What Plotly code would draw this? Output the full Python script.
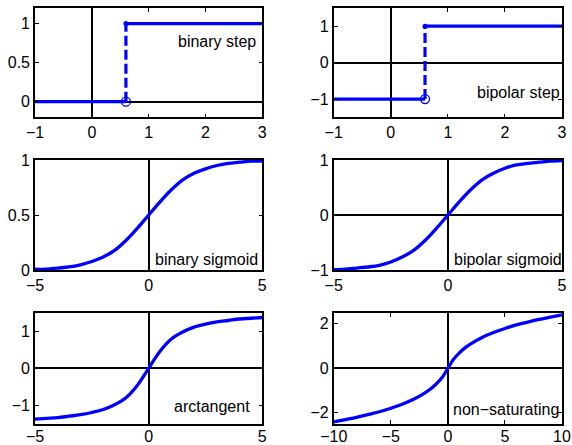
import plotly.graph_objects as go
from plotly.subplots import make_subplots

# ---- data ----
threshold = 0.6
step_x_low = [-1, threshold]
step_x_high = [threshold, 3]
binary_low = [0, 0]
binary_high = [1, 1]
bipolar_low = [-1, -1]
bipolar_high = [1, 1]

sig_x = [-5, -4.5, -4, -3.5, -3, -2.5, -2, -1.5, -1, -0.5, 0,
         0.5, 1, 1.5, 2, 2.5, 3, 3.5, 4, 4.5, 5]
binary_sig = [0.01, 0.01, 0.02, 0.03, 0.05, 0.08, 0.12, 0.18, 0.27, 0.38, 0.50,
              0.62, 0.73, 0.82, 0.88, 0.92, 0.95, 0.97, 0.98, 0.99, 0.99]
bipolar_sig = [-0.99, -0.98, -0.96, -0.94, -0.91, -0.85, -0.76, -0.64, -0.46, -0.24, 0.0,
               0.24, 0.46, 0.64, 0.76, 0.85, 0.91, 0.94, 0.96, 0.98, 0.99]
arctan_y = [-1.37, -1.35, -1.33, -1.29, -1.25, -1.19, -1.11, -0.98, -0.79, -0.46, 0.0,
            0.46, 0.79, 0.98, 1.11, 1.19, 1.25, 1.29, 1.33, 1.35, 1.37]

ns_x = [-10, -9, -8, -7, -6, -5, -4, -3, -2, -1.5, -1, -0.5, 0,
        0.5, 1, 1.5, 2, 3, 4, 5, 6, 7, 8, 9, 10]
ns_y = [-2.40, -2.30, -2.20, -2.08, -1.95, -1.79, -1.61, -1.39, -1.10, -0.92, -0.69, -0.41, 0.0,
        0.41, 0.69, 0.92, 1.10, 1.39, 1.61, 1.79, 1.95, 2.08, 2.20, 2.30, 2.40]

labels = ["binary step", "bipolar step", "binary sigmoid", "bipolar sigmoid",
          "arctangent", "non\u2212saturating"]
label_pos = [(1.48, 0.77), (1.48, -0.83), (0.2, 0.1), (0.18, -0.8), (1.04, -1.04), (0.26, -1.83)]

x_ranges = [[-1, 3], [-1, 3], [-5, 5], [-5, 5], [-5, 5], [-10, 10]]
y_ranges = [[-0.2, 1.2], [-1.5, 1.5], [0, 1], [-1, 1], [-1.5, 1.5], [-2.5, 2.5]]
x_ticks = [[-1, 0, 1, 2, 3], [-1, 0, 1, 2, 3], [-5, 0, 5], [-5, 0, 5], [-5, 0, 5], [-10, -5, 0, 5, 10]]
y_ticks = [[0, 0.5, 1], [-1, 0, 1], [0, 0.5, 1], [-1, 0, 1], [-1, 0, 1], [-2, 0, 2]]

# ---- styling ----
BLUE = "#0000ff"
FONT = "Liberation Sans"
FS = 16
W, H = 572, 445
col_px = [(35, 262.3), (333.7, 562)]
row_px = [(8, 117.3), (160, 270.3), (312.7, 424)]
x_standoff = [0, 0, -3]

fig = make_subplots(rows=3, cols=2)

def add_step(row, col, low, high):
    fig.add_trace(go.Scatter(x=step_x_low, y=low, mode="lines",
                             line=dict(color=BLUE, width=3.2)), row=row, col=col)
    fig.add_trace(go.Scatter(x=[step_x_low[-1], step_x_high[0]], y=[low[-1], high[0]], mode="lines",
                             line=dict(color=BLUE, width=3.2, dash="10px,4px")), row=row, col=col)
    fig.add_trace(go.Scatter(x=step_x_high, y=high, mode="lines",
                             line=dict(color=BLUE, width=3.2)), row=row, col=col)
    fig.add_trace(go.Scatter(x=[step_x_low[-1]], y=[low[-1]], mode="markers",
                             marker=dict(symbol="circle-open", size=9, color=BLUE,
                                         line=dict(width=1.3, color=BLUE))), row=row, col=col)
    fig.add_trace(go.Scatter(x=[step_x_high[0]], y=[high[0]], mode="markers",
                             marker=dict(symbol="circle", size=5, color=BLUE)), row=row, col=col)

add_step(1, 1, binary_low, binary_high)
add_step(1, 2, bipolar_low, bipolar_high)

curves = [(2, 1, sig_x, binary_sig), (2, 2, sig_x, bipolar_sig),
          (3, 1, sig_x, arctan_y), (3, 2, ns_x, ns_y)]
for r, c, xs, ys in curves:
    fig.add_trace(go.Scatter(x=xs, y=ys, mode="lines", line_shape="spline",
                             line=dict(color=BLUE, width=3.3)), row=r, col=c)

annotations = []
for i in range(6):
    r, c = divmod(i, 2)
    suffix = "" if i == 0 else str(i + 1)
    xa = fig.layout["xaxis" + suffix]
    ya = fig.layout["yaxis" + suffix]
    x0, x1 = col_px[c]
    y0, y1 = row_px[r]
    common = dict(showline=True, mirror="ticks", linecolor="black", linewidth=1.6,
                  ticks="inside", ticklen=4, tickcolor="black", tickwidth=1,
                  showgrid=False, zeroline=True, zerolinecolor="black", zerolinewidth=1.6,
                  automargin=False,
                  tickfont=dict(family=FONT, size=FS, color="black"))
    xa.update(domain=[x0 / W, x1 / W], range=x_ranges[i], tickvals=x_ticks[i],
              ticklabelstandoff=x_standoff[r], **common)
    ya.update(domain=[1 - y1 / H, 1 - y0 / H], range=y_ranges[i], tickvals=y_ticks[i], **common)
    lx, ly = label_pos[i]
    annotations.append(dict(text=labels[i], x=lx, y=ly, xref="x" + suffix, yref="y" + suffix,
                            xanchor="left", yanchor="middle", showarrow=False,
                            font=dict(family=FONT, size=FS, color="black")))

fig.update_layout(width=W, height=H, autosize=False,
                  margin=dict(l=0, r=0, t=0, b=0, pad=0, autoexpand=False),
                  paper_bgcolor="white", plot_bgcolor="white", showlegend=False,
                  annotations=annotations)

fig.write_html("out.html", config={"displayModeBar": False},
               post_script="document.body.style.margin='0px';")
